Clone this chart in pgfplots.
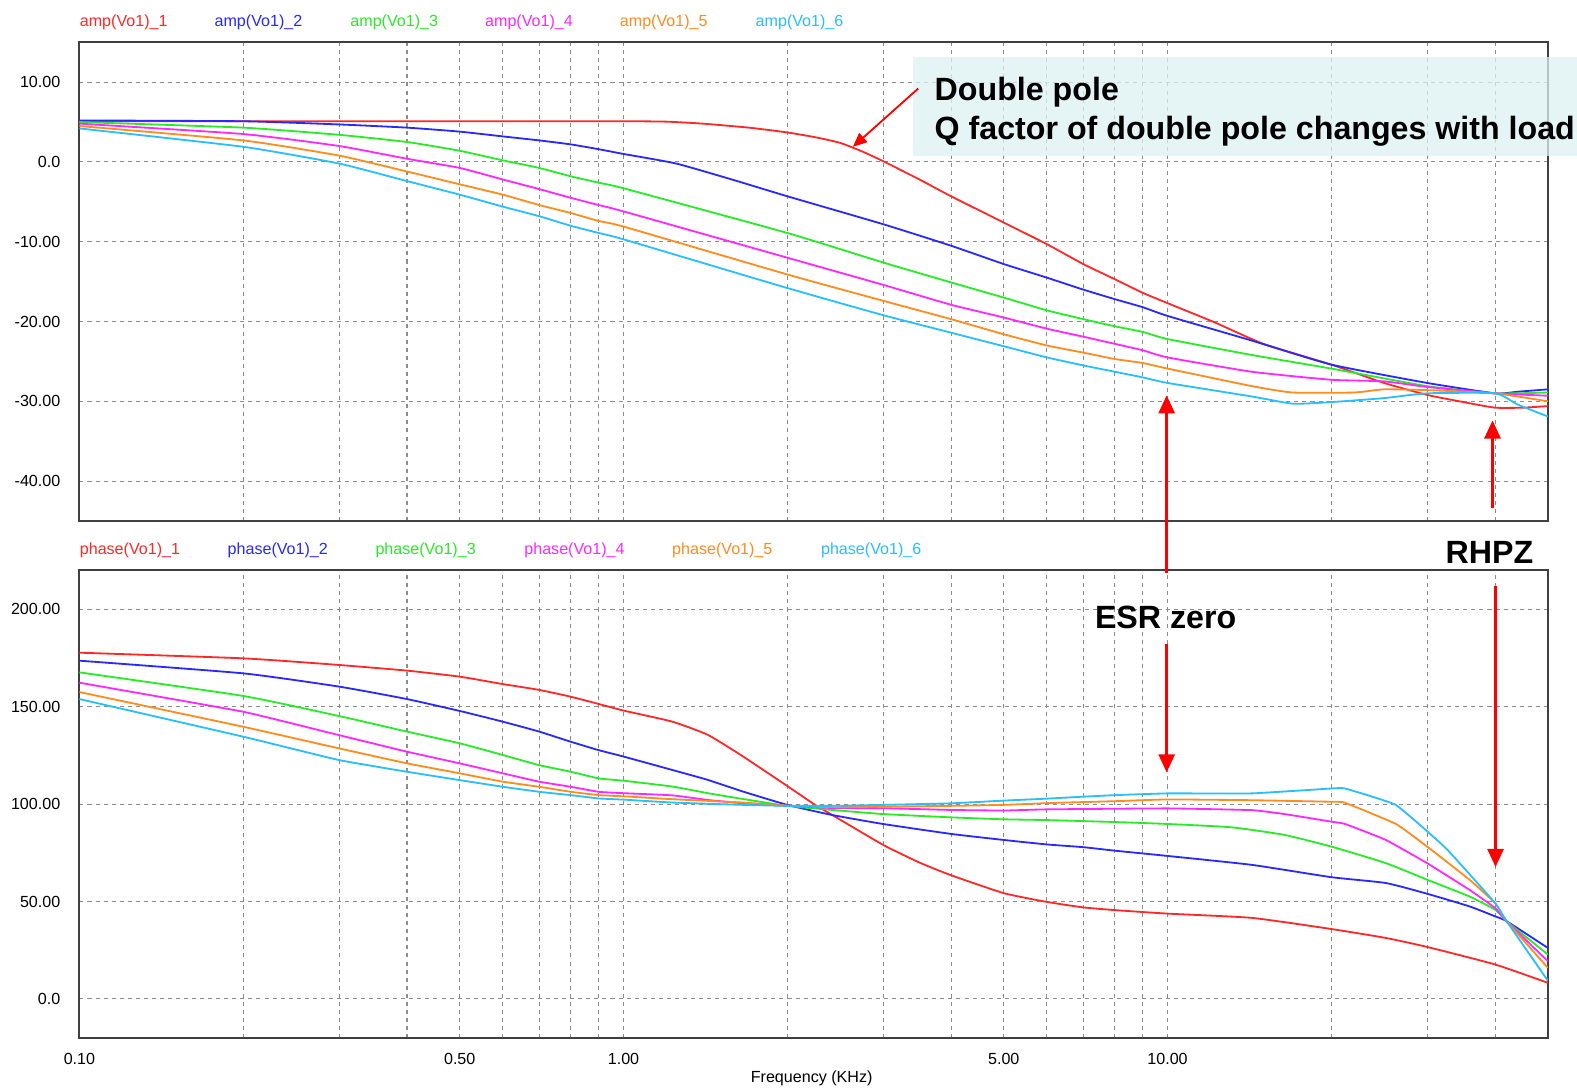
\documentclass[border=0pt]{standalone}
\usepackage{fontspec}
\setmainfont{Liberation Sans}
\usepackage{pgfplots}
\pgfplotsset{compat=1.18}
\usetikzlibrary{arrows.meta}
\definecolor{cA}{RGB}{255,40,40}
\definecolor{cB}{RGB}{40,40,255}
\definecolor{cC}{RGB}{40,235,40}
\definecolor{cD}{RGB}{255,40,255}
\definecolor{cE}{RGB}{255,140,30}
\definecolor{cF}{RGB}{40,190,255}
\definecolor{gridc}{RGB}{140,140,140}
\definecolor{boxc}{RGB}{220,240,240}
\definecolor{arr}{RGB}{255,0,0}
\begin{document}
\begin{tikzpicture}
\path[use as bounding box] (0,0) rectangle (784pt,-541pt);
% ---------------- amplitude ----------------
\begin{axis}[at={(39.5pt,-259pt)}, anchor=south west,
    xmode=log, xmin=0.1, xmax=50,
    scale only axis, width=730pt, height=238pt,
    ymin=-45, ymax=15,
    axis line style={black!75, line width=1pt},
    grid=both,
    major grid style={gridc, line width=0.5pt, dash pattern=on 2pt off 2pt},
    minor grid style={gridc, line width=0.5pt, dash pattern=on 2pt off 2pt},
    xtick={0.1,0.5,1,5,10},
    minor xtick={0.2,0.3,0.4,0.6,0.7,0.8,0.9,2,3,4,6,7,8,9,20,30,40},
    minor y tick num=0,
    major tick length=0pt, minor tick length=0pt,
    /pgf/number format/assume math mode=true,
    ticklabel style={font=\fontsize{8pt}{9.6pt}\selectfont},
    yticklabel style={xshift=-6pt},
    ytick={-40,-30,-20,-10,0,10},
    yticklabels={-40.00,-30.00,-20.00,-10.00,0.0,10.00},
    xticklabels={}]
\addplot[cA, line width=0.9pt, no markers, smooth, tension=0.3] coordinates {(0.1,5.1)(0.2,5.1)(0.5,5.1)(1.0,5.1)(1.2,5.05)(1.4,4.8)(1.7,4.3)(2.0,3.7)(2.25,3.1)(2.5,2.4)(2.75,1.3)(3.0,0.1)(3.5,-2.2)(4.0,-4.3)(5.0,-7.6)(6.0,-10.3)(7.0,-12.8)(8.0,-14.7)(9.0,-16.4)(10,-17.7)(12.2,-20.1)(15,-22.8)(20,-25.4)(25,-27.7)(30,-29.2)(35,-30.1)(40,-30.8)(45,-30.8)(50,-30.6)};
\addplot[cB, line width=0.9pt, no markers, smooth, tension=0.3] coordinates {(0.1,5.2)(0.2,5.1)(0.3,4.7)(0.4,4.3)(0.5,3.8)(0.6,3.2)(0.7,2.7)(0.8,2.2)(0.9,1.6)(1.0,1.0)(1.25,-0.2)(1.6,-2.3)(2.0,-4.3)(3.0,-7.8)(4.0,-10.5)(5.0,-12.8)(6.0,-14.5)(7.0,-16.0)(8.0,-17.2)(9.0,-18.2)(10,-19.3)(14.3,-22.4)(20,-25.4)(30,-27.7)(40,-29.0)(44,-28.8)(50,-28.5)};
\addplot[cC, line width=0.9pt, no markers, smooth, tension=0.3] coordinates {(0.1,5.0)(0.2,4.3)(0.3,3.4)(0.4,2.5)(0.5,1.4)(0.6,0.2)(0.7,-0.75)(0.8,-1.8)(0.9,-2.6)(1.0,-3.3)(2.0,-8.9)(3.0,-12.6)(4.0,-15.1)(5.0,-17.0)(6.0,-18.6)(7.0,-19.7)(8.0,-20.6)(9.0,-21.3)(10,-22.2)(14.3,-24.2)(20,-25.9)(30,-28.1)(40,-29.0)(50,-28.9)};
\addplot[cD, line width=0.9pt, no markers, smooth, tension=0.3] coordinates {(0.1,4.8)(0.2,3.5)(0.3,2.0)(0.4,0.4)(0.5,-0.75)(0.6,-2.2)(0.7,-3.4)(0.8,-4.5)(0.9,-5.4)(1.0,-6.2)(2.0,-12.0)(3.0,-15.4)(4.0,-17.9)(5.0,-19.5)(6.0,-20.9)(7.0,-21.9)(8.0,-22.8)(9.0,-23.6)(10,-24.5)(14.3,-26.3)(20,-27.3)(25,-27.5)(30,-28.2)(40,-29.0)(50,-29.3)};
\addplot[cE, line width=0.9pt, no markers, smooth, tension=0.3] coordinates {(0.1,4.5)(0.2,2.7)(0.3,0.8)(0.4,-1.2)(0.5,-2.8)(0.6,-4.1)(0.7,-5.4)(0.8,-6.4)(0.9,-7.4)(1.0,-8.1)(2.0,-14.1)(3.0,-17.4)(4.0,-19.7)(5.0,-21.6)(6.0,-23.0)(7.0,-23.9)(8.0,-24.7)(9.0,-25.2)(10,-25.9)(14.3,-28.1)(17,-28.9)(22,-28.9)(25,-28.5)(30,-28.6)(40,-29.0)(50,-30.0)};
\addplot[cF, line width=0.9pt, no markers, smooth, tension=0.3] coordinates {(0.1,4.2)(0.2,1.9)(0.3,-0.2)(0.4,-2.4)(0.5,-4.1)(0.6,-5.6)(0.7,-6.8)(0.8,-8.0)(0.9,-8.9)(1.0,-9.7)(2.0,-15.8)(3.0,-19.2)(4.0,-21.4)(5.0,-23.1)(6.0,-24.5)(7.0,-25.5)(8.0,-26.3)(9.0,-27.0)(10,-27.7)(14.3,-29.4)(17,-30.3)(20,-30.1)(25,-29.6)(30,-29.0)(40,-29.0)(44,-30.4)(50,-31.9)};
\end{axis}
% ---------------- phase ----------------
\begin{axis}[at={(39.5pt,-516pt)}, anchor=south west,
    xmode=log, xmin=0.1, xmax=50,
    scale only axis, width=730pt, height=232.5pt,
    ymin=-20, ymax=220,
    axis line style={black!75, line width=1pt},
    grid=both,
    major grid style={gridc, line width=0.5pt, dash pattern=on 2pt off 2pt},
    minor grid style={gridc, line width=0.5pt, dash pattern=on 2pt off 2pt},
    xtick={0.1,0.5,1,5,10},
    minor xtick={0.2,0.3,0.4,0.6,0.7,0.8,0.9,2,3,4,6,7,8,9,20,30,40},
    minor y tick num=0,
    major tick length=0pt, minor tick length=0pt,
    /pgf/number format/assume math mode=true,
    ticklabel style={font=\fontsize{8pt}{9.6pt}\selectfont},
    yticklabel style={xshift=-6pt},
    xticklabel style={yshift=-4pt},
    ytick={0,50,100,150,200},
    yticklabels={0.0,50.00,100.00,150.00,200.00},
    xticklabels={0.10,0.50,1.00,5.00,10.00}]
\addplot[cA, line width=0.9pt, no markers, smooth, tension=0.3] coordinates {(0.1,177.7)(0.2,174.8)(0.3,171.4)(0.4,168.5)(0.5,165.4)(0.6,161.6)(0.7,158.6)(0.8,155.1)(0.9,151.4)(1.0,148.0)(1.23,142.3)(1.43,135.5)(1.66,124.4)(2.0,109.3)(2.25,99.6)(2.42,94.4)(3.0,79.1)(3.5,70.0)(4.0,63.5)(5.0,54.3)(6.0,49.8)(7.0,47.0)(8.0,45.6)(10,43.8)(14.3,41.6)(20,35.9)(25.2,31.3)(30,26.7)(40,17.7)(50,8.3)};
\addplot[cB, line width=0.9pt, no markers, smooth, tension=0.3] coordinates {(0.1,173.6)(0.2,167.1)(0.3,160.3)(0.4,153.9)(0.5,147.8)(0.6,142.3)(0.7,137.2)(0.8,132.0)(0.9,127.7)(1.0,124.4)(1.23,117.5)(1.43,112.4)(1.66,106.4)(2.0,99.6)(2.42,94.4)(3.0,89.8)(4.0,84.7)(5.0,81.6)(6.0,79.3)(7.0,77.9)(8.0,76.1)(10,73.4)(14.3,68.8)(20,62.5)(25.2,59.5)(30,54.0)(35.9,47.5)(40,42.4)(42,39.9)(50,26.2)};
\addplot[cC, line width=0.9pt, no markers, smooth, tension=0.3] coordinates {(0.1,167.6)(0.2,155.5)(0.3,145.2)(0.4,137.2)(0.5,131.2)(0.6,125.2)(0.7,120.0)(0.8,116.6)(0.9,113.2)(1.0,112.0)(1.23,109.0)(1.43,105.6)(1.66,102.6)(2.0,99.1)(2.42,97.0)(3.0,94.9)(4.0,93.2)(5.0,92.2)(6.0,91.8)(8.0,90.8)(10,89.8)(13.1,88.1)(16.4,84.2)(20,78.2)(25.2,69.7)(30,61.2)(35.9,52.6)(40,45.8)(42,39.9)(50,22.8)};
\addplot[cD, line width=0.9pt, no markers, smooth, tension=0.2] coordinates {(0.1,162.3)(0.2,147.4)(0.3,135.4)(0.4,126.9)(0.5,120.9)(0.6,115.8)(0.7,111.5)(0.8,108.9)(0.9,106.3)(1.0,105.6)(1.23,104.5)(1.43,102.1)(1.66,100.4)(2.0,99.1)(2.42,98.0)(3.0,97.9)(4.0,97.0)(5.0,96.7)(6.0,97.3)(10,97.8)(14.3,96.9)(16.4,94.9)(20,91.0)(21.2,89.8)(25.2,81.6)(30,69.7)(35.9,56.0)(40,46.7)(42,39.9)(50,19.4)};
\addplot[cE, line width=0.9pt, no markers, smooth, tension=0.2] coordinates {(0.1,157.5)(0.2,139.7)(0.3,128.6)(0.4,120.9)(0.5,115.8)(0.6,111.5)(0.7,108.9)(0.8,106.3)(0.9,104.6)(1.0,104.0)(1.23,102.5)(1.66,100.8)(2.0,99.2)(2.42,98.4)(3.0,98.7)(4.0,99.1)(5.0,99.6)(6.0,100.5)(8.0,101.5)(10,102.4)(14.3,102.0)(20,101.2)(21.2,100.7)(26.3,89.8)(30,78.2)(35.9,61.2)(40,49.2)(42,39.9)(50,16.0)};
\addplot[cF, line width=0.9pt, no markers, smooth, tension=0.2] coordinates {(0.1,153.9)(0.2,134.6)(0.3,122.6)(0.4,116.6)(0.5,112.3)(0.6,108.9)(0.7,106.3)(0.8,104.6)(0.9,102.9)(1.0,102.3)(1.23,100.8)(1.66,99.6)(2.0,99.1)(2.42,99.1)(3.0,99.6)(4.0,100.4)(5.0,101.8)(6.0,102.8)(7.0,103.8)(8.0,104.6)(10,105.5)(14.3,105.5)(20,108.0)(21.2,108.0)(26.3,99.5)(32.5,77.3)(40,49.2)(42,39.9)(50,9.4)};
\end{axis}
% ---------------- legends ----------------
\begin{scope}[every node/.style={anchor=west, inner sep=0pt, font=\fontsize{8pt}{9.6pt}\selectfont}]
\node[text=cA] at (39.5pt,-11pt) {amp(Vo1)\_1};
\node[text=cB] at (106.5pt,-11pt) {amp(Vo1)\_2};
\node[text=cC] at (174pt,-11pt) {amp(Vo1)\_3};
\node[text=cD] at (241pt,-11pt) {amp(Vo1)\_4};
\node[text=cE] at (308pt,-11pt) {amp(Vo1)\_5};
\node[text=cF] at (375.5pt,-11pt) {amp(Vo1)\_6};
\node[text=cA] at (39.5pt,-273.5pt) {phase(Vo1)\_1};
\node[text=cB] at (113pt,-273.5pt) {phase(Vo1)\_2};
\node[text=cC] at (186.5pt,-273.5pt) {phase(Vo1)\_3};
\node[text=cD] at (260.5pt,-273.5pt) {phase(Vo1)\_4};
\node[text=cE] at (334pt,-273.5pt) {phase(Vo1)\_5};
\node[text=cF] at (408pt,-273.5pt) {phase(Vo1)\_6};
\end{scope}
\node[anchor=center, inner sep=0pt, font=\fontsize{8pt}{9.6pt}\selectfont] at (403.5pt,-536pt) {Frequency (KHz)};
% ---------------- annotations ----------------
\fill[boxc, fill opacity=0.75] (454pt,-28.5pt) rectangle (784pt,-77.5pt);
\begin{scope}[every node/.style={inner sep=0pt, font=\fontsize{16pt}{19pt}\selectfont\bfseries}]
\node[anchor=base west] at (464.5pt,-49.75pt) {Double pole};
\node[anchor=base west] at (464.5pt,-69.25pt) {Q factor of double pole changes with load};
\node[anchor=base] at (579.5pt,-312.25pt) {ESR zero};
\node[anchor=base] at (740.5pt,-280.25pt) {RHPZ};
\end{scope}
\draw[arr, line width=0.9pt, -{Triangle[width=6pt,length=7pt]}] (456.5pt,-44pt) -- (424pt,-73pt);
\draw[arr, line width=1.3pt, -{Triangle[width=8pt,length=9pt]}] (580pt,-285pt) -- (580pt,-196.5pt);
\draw[arr, line width=1.3pt, -{Triangle[width=8pt,length=9pt]}] (580pt,-320pt) -- (580pt,-384pt);
\draw[arr, line width=1.3pt, -{Triangle[width=8pt,length=9pt]}] (742pt,-252.5pt) -- (742pt,-209pt);
\draw[arr, line width=1.3pt, -{Triangle[width=8pt,length=9pt]}] (743.5pt,-291.5pt) -- (743.5pt,-431pt);
\end{tikzpicture}
\end{document}
